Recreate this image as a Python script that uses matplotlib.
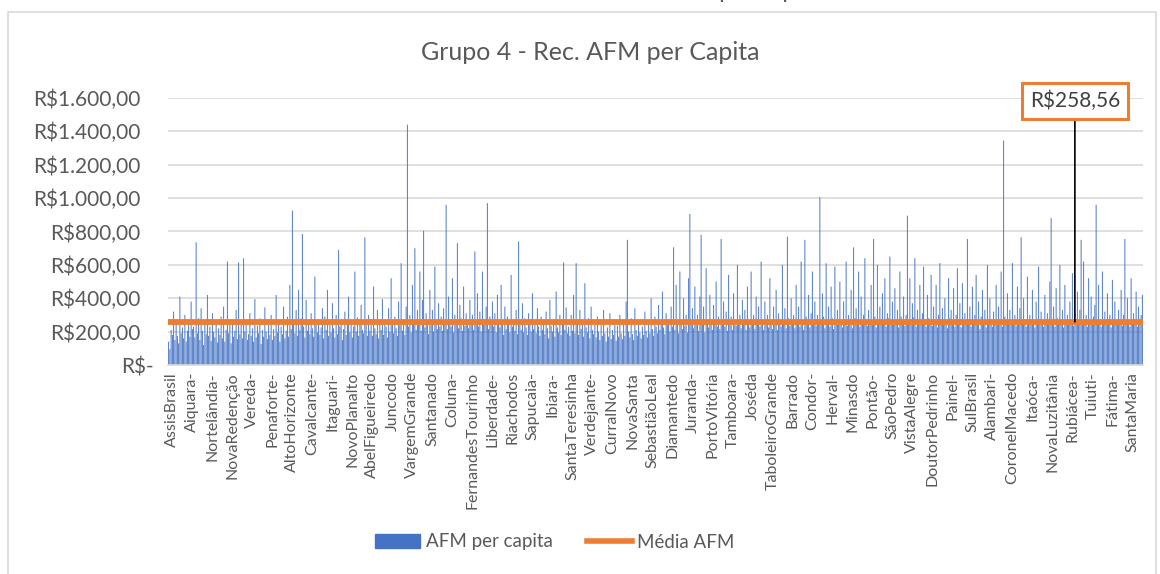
import numpy as np
import matplotlib
matplotlib.use("Agg")
import matplotlib.pyplot as plt
from matplotlib.patches import Patch, Rectangle
from matplotlib.lines import Line2D
from matplotlib.transforms import ScaledTranslation

plt.rcParams['font.family'] = ['Lato', 'DejaVu Sans']

# rótulos exibidos no eixo x (um a cada 16 municípios)
municipios_rotulo = [
    "AssisBrasil", "Aiquara-", "Nortelândia-", "NovaRedenção", "Vereda-", "Penaforte-",
    "AltoHorizonte", "Cavalcante-", "Itaguari-", "NovoPlanalto", "AbelFigueiredo", "Juncodo",
    "VargemGrande", "Santanado", "Coluna-", "FernandesTourinho", "Liberdade-", "Riachodos",
    "Sapucaia-", "Ibiara-", "SantaTeresinha", "Verdejante-", "CurralNovo", "NovaSanta",
    "SebastiãoLeal", "Diamantedo", "Juranda-", "PortoVitória", "Tamboara-", "Joséda",
    "TaboleiroGrande", "Barrado", "Condor-", "Herval-", "Minasdo", "Pontão-", "SãoPedro",
    "VistaAlegre", "DoutorPedrinho", "Painel-", "SulBrasil", "Alambari-", "CoronelMacedo",
    "Itaóca-", "NovaLuzitânia", "Rubiácea-", "Tuiuti-", "Fátima-", "SantaMaria",
]

# AFM per capita (R$) estimado para cada município do grupo
afm_per_capita = [
    140, 95, 210, 180, 320, 150, 260, 175, 130, 410, 190, 225, 160, 300, 140, 205, 250, 170, 380, 215,
    230, 165, 735, 190, 280, 150, 340, 205, 120, 260, 185, 420, 175, 230, 145, 310, 200, 165, 250, 135,
    220, 180, 290, 160, 350, 140, 210, 620, 190, 240, 130, 275, 170, 205, 330, 155, 615, 185, 240, 160,
    640, 200, 265, 150, 185, 310, 175, 220, 140, 395, 165, 235, 190, 280, 125, 210, 170, 345, 200, 155,
    240, 180, 300, 150, 215, 175, 420, 195, 260, 140, 230, 185, 350, 160, 205, 290, 170, 480, 215, 925,
    260, 190, 330, 175, 450, 210, 280, 785, 230, 165, 390, 205, 250, 185, 310, 220, 170, 530, 240, 195,
    270, 180, 225, 340, 160, 290, 210, 450, 175, 240, 195, 370, 220, 165, 300, 185, 690, 230, 260, 150,
    215, 320, 180, 250, 410, 195, 270, 165, 230, 560, 200, 285, 175, 240, 360, 210, 190, 765, 250, 175,
    300, 205, 240, 175, 470, 220, 185, 330, 160, 250, 210, 395, 180, 275, 230, 165, 340, 200, 520, 245,
    190, 290, 220, 175, 380, 240, 610, 205, 265, 180, 350, 1440, 230, 300, 195, 480, 255, 700, 210, 330,
    240, 560, 205, 390, 805, 225, 310, 270, 185, 450, 245, 330, 200, 590, 260, 215, 370, 230, 290, 205,
    340, 250, 960, 215, 410, 275, 230, 520, 195, 300, 245, 730, 220, 360, 280, 205, 470, 235, 310, 260,
    220, 390, 250, 300, 210, 680, 265, 430, 230, 320, 200, 560, 275, 240, 350, 970, 215, 290, 245, 380,
    230, 310, 195, 420, 260, 225, 480, 240, 180, 350, 215, 290, 250, 195, 540, 230, 270, 205, 330, 185,
    740, 240, 210, 370, 195, 280, 225, 180, 310, 240, 200, 430, 215, 265, 190, 340, 230, 175, 290, 210,
    250, 185, 320, 220, 160, 390, 235, 200, 275, 170, 440, 225, 195, 300, 180, 250, 615, 210, 345, 190,
    230, 175, 300, 205, 420, 190, 610, 245, 180, 330, 215, 265, 170, 490, 225, 195, 280, 160, 350, 210,
    185, 240, 165, 290, 200, 150, 260, 175, 330, 190, 140, 225, 170, 310, 155, 210, 180, 275, 145, 235,
    170, 300, 190, 155, 245, 175, 380, 750, 200, 165, 280, 185, 150, 340, 210, 175, 260, 195, 160, 230,
    180, 320, 205, 165, 250, 190, 400, 215, 175, 290, 230, 190, 360, 210, 250, 440, 225, 185, 310, 240,
    260, 200, 350, 230, 705, 210, 480, 245, 190, 560, 270, 215, 400, 235, 300, 195, 520, 905, 250, 340,
    220, 470, 260, 300, 205, 410, 780, 240, 350, 195, 580, 260, 225, 420, 275, 210, 360, 245, 500, 230,
    290, 215, 755, 260, 380, 230, 320, 205, 540, 250, 290, 210, 430, 270, 235, 600, 250, 300, 220, 390,
    245, 330, 210, 470, 260, 225, 560, 240, 300, 215, 410, 255, 350, 230, 620, 265, 210, 380, 240, 300,
    225, 520, 260, 215, 350, 240, 450, 210, 310, 265, 230, 600, 250, 340, 220, 770, 280, 235, 400, 260,
    300, 220, 480, 255, 350, 230, 620, 265, 210, 750, 290, 240, 420, 225, 310, 560, 250, 380, 235, 300,
    260, 1005, 240, 430, 290, 220, 610, 255, 350, 230, 470, 280, 215, 590, 260, 330, 240, 500, 270, 225,
    380, 250, 620, 235, 300, 265, 450, 220, 705, 280, 340, 245, 560, 230, 410, 270, 300, 640, 255, 235,
    330, 260, 480, 240, 755, 290, 225, 600, 270, 350, 240, 430, 265, 520, 230, 310, 280, 650, 250, 380,
    240, 460, 270, 330, 225, 560, 290, 250, 410, 235, 300, 895, 260, 520, 240, 370, 285, 640, 230, 330,
    270, 480, 245, 310, 590, 260, 230, 420, 280, 250, 540, 235, 350, 265, 480, 225, 300, 610, 255, 340,
    240, 400, 265, 220, 520, 280, 330, 245, 460, 230, 300, 580, 255, 370, 225, 490, 270, 310, 240, 755,
    265, 350, 230, 470, 255, 300, 540, 240, 380, 215, 290, 450, 260, 330, 225, 600, 250, 400, 275, 230,
    320, 260, 480, 240, 350, 270, 560, 230, 1345, 290, 250, 430, 265, 330, 240, 610, 255, 300, 235, 470,
    260, 340, 765, 245, 400, 275, 230, 530, 260, 300, 240, 450, 270, 225, 380, 255, 590, 240, 320, 265,
    230, 420, 255, 310, 240, 500, 880, 265, 350, 230, 460, 280, 245, 600, 260, 330, 225, 480, 270, 300,
    245, 380, 260, 550, 235, 310, 275, 440, 250, 330, 750, 240, 620, 265, 300, 230, 520, 255, 410, 240,
    290, 360, 960, 245, 480, 270, 230, 560, 255, 320, 240, 430, 265, 300, 225, 510, 250, 380, 270, 240,
    330, 260, 450, 235, 300, 755, 250, 400, 270, 230, 520, 245, 310, 265, 440, 230, 350, 255, 300, 420,
]

media_afm = 258.56
y_ticks = [0, 200, 400, 600, 800, 1000, 1200, 1400, 1600]

azul = "#4472C4"
laranja = "#ED7D31"
cinza_txt = "#595959"

n = len(afm_per_capita)
x = np.arange(n)

fig = plt.figure(figsize=(11.6, 5.74), dpi=100)
ax = fig.add_axes([168 / 1160, 1 - 365 / 574, 975 / 1160, 267 / 574])

barras = ax.bar(x, afm_per_capita, width=0.75, color=azul, linewidth=0, zorder=2)
for b in barras:
    b.set_snap(False)
ax.plot([-0.5, n - 0.5], [media_afm, media_afm], color=laranja, lw=4.2,
        solid_capstyle='butt', zorder=3)

ax.set_xlim(-0.5, n - 0.5)
ax.set_ylim(0, 1600)

def fmt_real(v):
    if v == 0:
        return "R$-"
    s = f"{v:,.2f}".replace(",", "X").replace(".", ",").replace("X", ".")
    return "R$" + s

ax.set_yticks(y_ticks)
ax.set_yticklabels([fmt_real(v) for v in y_ticks], fontsize=15, color=cinza_txt)
ax.tick_params(axis='y', length=0, pad=20)
for lbl in ax.get_yticklabels():
    if lbl.get_text() == "R$-":
        lbl.set_transform(lbl.get_transform() + ScaledTranslation(10 / 72, 0, fig.dpi_scale_trans))

pos_rotulos = [3 + 16 * i for i in range(len(municipios_rotulo))]
ax.set_xticks(pos_rotulos)
ax.set_xticklabels(municipios_rotulo, rotation=90, fontsize=11.5, color=cinza_txt)
ax.tick_params(axis='x', length=0, pad=5)

ax.grid(axis='y', color="#D9D9D9", lw=1.2, zorder=0)
for s in ["top", "right", "left"]:
    ax.spines[s].set_visible(False)
ax.spines["bottom"].set_color("#D9D9D9")
ax.spines["bottom"].set_linewidth(1.2)

# rótulo de dados da média
ax.annotate(fmt_real(media_afm), xy=(725, media_afm), xytext=(725, 1582),
            ha='center', va='center', fontsize=15, color="#404040",
            bbox=dict(boxstyle='square,pad=0.38', fc='white', ec=laranja, lw=2.2),
            arrowprops=dict(arrowstyle='-', color='black', lw=1.2, shrinkA=0, shrinkB=0),
            zorder=5)

fig.text(590 / 1160, 1 - 52 / 574, "Grupo 4 - Rec. AFM per Capita", ha='center', va='center',
         fontsize=18, color=cinza_txt)
fig.text(662 / 1160, 1.003, "AFM per capita", ha='left', va='baseline', fontsize=17, color=cinza_txt)

# moldura do gráfico
fig.patches.append(Rectangle((8 / 1160, -0.1), 1148 / 1160, 1 - 12 / 574 + 0.1,
                             transform=fig.transFigure, fill=False, ec="#D9D9D9", lw=1.2))

handles = [Patch(color=azul), Line2D([0], [0], color=laranja, lw=4)]
fig.legend(handles, ["AFM per capita", "Média AFM"], loc='center', ncol=2, frameon=False,
           bbox_to_anchor=(555 / 1160, 1 - 542 / 574), fontsize=13.5, labelcolor=cinza_txt,
           handlelength=2.4, columnspacing=1.8, handletextpad=0.3)

fig.savefig("out.png", dpi=100)
